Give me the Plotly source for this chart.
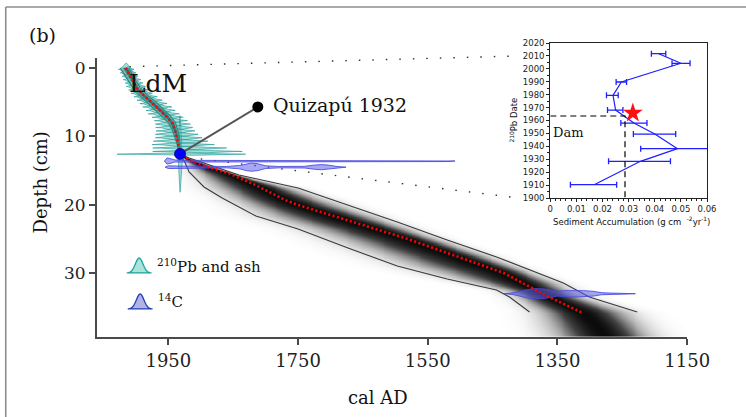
import numpy as np
import plotly.graph_objects as go

# ---------------- data ----------------
# Age-depth model: mean (red dotted) and 95% bounds (thin dark lines)
mean_depth = [0, 1, 2, 3, 4, 5, 6, 7, 8, 9, 10, 11, 12, 12.57, 13.45, 14.4, 15.4, 17.1, 19.3, 20.03, 25.0, 27.05, 29.97, 33.48, 35.82]
mean_year = [2016, 2010, 2004, 1998, 1988, 1976, 1965, 1954, 1944, 1940, 1937, 1935, 1933, 1932, 1918, 1892, 1857, 1816, 1770, 1750, 1581, 1520, 1433, 1363, 1311]

young_depth = [0, 1, 2, 3, 4, 5, 6, 7, 8, 9, 10, 11, 12, 12.57, 13.89, 15.20, 17.40, 19.01, 21.64, 23.54, 26.32, 28.95, 30.85, 32.46, 33.48, 34.65, 35.67]
young_year = [2024, 2017, 2010, 2004, 1994, 1983, 1972, 1961, 1950, 1944, 1940, 1937, 1934.5, 1932, 1924, 1918, 1895, 1867, 1815, 1750, 1673, 1597, 1520, 1444, 1424, 1408, 1393]

old_depth = [0, 1, 2, 3, 4, 5, 6, 7, 8, 9, 10, 11, 12, 12.57, 13.16, 15.64, 17.54, 20.03, 22.51, 25.15, 27.63, 31.43, 33.48, 35.67]
old_year = [2011, 2005, 1999, 1993, 1982, 1969, 1958, 1947, 1939, 1936, 1933, 1932, 1931, 1931.5, 1918, 1841, 1750, 1673, 1597, 1520, 1444, 1341, 1301, 1227]

# grey cloud continues below the end of the lines
cloud_ext_depth = [37.5, 39.4]
cloud_ext_mean = [1292, 1276]
cloud_ext_young = [1384, 1372]
cloud_ext_old = [1206, 1188]

# 210Pb dates (depth, age, 1-sigma)
pb_depth = [0.2, 0.7, 1.2, 1.7, 2.2, 2.7, 3.2, 3.7, 4.2, 4.7, 5.2, 5.7, 6.2, 6.7, 7.2, 7.7, 8.2, 8.7, 9.2, 9.7, 10.2, 10.7, 11.2, 11.7, 12.2, 12.6]
pb_age = [2015, 2012, 2009, 2006, 2003, 2000, 1996, 1991, 1985, 1979, 1973, 1967, 1962, 1957, 1951, 1946, 1943, 1941, 1939, 1937, 1934, 1931, 1927, 1917, 1905, 1930]
pb_sd = [4, 4, 4, 4.5, 4.5, 5, 5, 5.5, 6, 6.5, 7, 7.5, 7.5, 8, 8, 8.5, 9, 9.5, 10, 11, 12, 14, 16, 19, 23, 33]

# Quizapu 1932 ash
ash_depth = 12.57
ash_age = 1932
ash_sd = 1.4
ash_peak = 5.6
ash_label_year = 1812
ash_label_depth = 5.7

# 14C calibrated distributions: outline (years, half-height in cm)
c14_depths = [13.6, 14.5, 33.0]
c14_years = [
    [1956, 1952, 1947, 1940, 1930, 1900, 1800, 1700, 1600, 1520, 1508],
    [1955, 1950, 1930, 1900, 1860, 1840, 1830, 1822, 1812, 1800, 1780, 1740, 1725, 1714, 1703, 1690, 1676],
    [1432, 1420, 1410, 1400, 1385, 1370, 1358, 1350, 1340, 1325, 1310, 1295, 1282, 1270, 1250, 1230],
]
c14_half = [
    [0, 0.45, 0.35, 0.15, 0.1, 0.1, 0.1, 0.1, 0.1, 0.08, 0],
    [0, 0.2, 0.15, 0.1, 0.1, 0.25, 0.5, 0.6, 0.5, 0.2, 0.1, 0.12, 0.3, 0.38, 0.3, 0.1, 0],
    [0, 0.1, 0.3, 0.55, 0.75, 0.7, 0.5, 0.35, 0.45, 0.5, 0.45, 0.35, 0.15, 0.1, 0.07, 0],
]

# Inset: sediment accumulation vs 210Pb date
sar_date = [2011.7, 2004.3, 1989.8, 1979.5, 1968.1, 1958.0, 1949.5, 1938.2, 1928.4, 1910.3]
sar_value = [0.0415, 0.0500, 0.0272, 0.0240, 0.0250, 0.0320, 0.0400, 0.0487, 0.0345, 0.0168]
sar_low = [0.0387, 0.0466, 0.0252, 0.0215, 0.0219, 0.0270, 0.0318, 0.0346, 0.0223, 0.0077]
sar_high = [0.0442, 0.0535, 0.0292, 0.0260, 0.0278, 0.0370, 0.0480, 0.0628, 0.0460, 0.0254]
dam_year = 1963.5
dam_sar = 0.0286
star_sar = 0.0316
star_year = 1965.8

x_ticks = [1950, 1750, 1550, 1350, 1150]
y_ticks = [0, 10, 20, 30]

# ---------------- layout geometry ----------------
W, H = 746, 417
L, R, T, B = 97, 30, 40, 80
PW, PH = W - L - R, H - T - B


def pxx(x):
    return (x - L) / PW


def pxy(y):
    return (H - B - y) / PH


X0, X1 = 2060, 1150
Y0, Y1 = -1.46, 39.33
MX0, MX1, MY0, MY1 = 97, 692, 58, 337
IX0, IX1, IY0, IY1 = 554, 712, 43, 198
SX = (0, 0.06)
SY = (1900, 2020)


def main_px(year, depth):
    return (MX0 + (X0 - year) / (X0 - X1) * (MX1 - MX0),
            MY0 + (depth - Y0) / (Y1 - Y0) * (MY1 - MY0))


def inset_px(v, yr):
    return (IX0 + (v - SX[0]) / (SX[1] - SX[0]) * (IX1 - IX0),
            IY1 - (yr - SY[0]) / (SY[1] - SY[0]) * (IY1 - IY0))


SERIF = "DejaVu Serif"
SANS = "DejaVu Sans"

fig = go.Figure()

# ---------------- grey probability cloud ----------------
cd = np.array(mean_depth + cloud_ext_depth)
cm = np.array(mean_year + cloud_ext_mean)
yd = np.array(young_depth + cloud_ext_depth)
yy = np.array(young_year + cloud_ext_young)
od = np.array(old_depth + cloud_ext_depth)
oy = np.array(old_year + cloud_ext_old)

gy = np.arange(0.0, 39.45, 0.1)
gx = np.arange(1150.0, 2060.1, 1.5)
m = np.interp(gy, cd, cm)
sl = np.maximum((np.interp(gy, yd, yy) - m) / 2.1, 1.0)
sr = np.maximum((m - np.interp(gy, od, oy)) / 2.1, 1.0)
dx = gx[None, :] - m[:, None]
sig = np.where(dx > 0, sl[:, None], sr[:, None])
Z = np.exp(-0.5 * (dx / sig) ** 2)
Z[Z < 0.004] = 0
Z = np.round(Z, 3)

fig.add_trace(go.Heatmap(
    x=gx, y=gy, z=Z, zmin=0, zmax=1, showscale=False, zsmooth="best",
    colorscale=[[0, "rgba(0,0,0,0)"], [0.3, "rgba(10,10,10,0.3)"], [0.7, "rgba(0,0,0,0.75)"], [1, "rgba(0,0,0,0.96)"]],
    hoverinfo="skip", xaxis="x", yaxis="y"))

# bounds
for dd, yv in ((young_depth, young_year), (old_depth, old_year)):
    fig.add_trace(go.Scatter(x=yv, y=dd, mode="lines", line=dict(color="#3a3a3a", width=1.1),
                             hoverinfo="skip", showlegend=False, xaxis="x", yaxis="y"))

# 210Pb + ash distributions
K = 3.2
tx, ty = [], []
items = [(d, a, s, K / s + 0.1) for d, a, s in zip(pb_depth, pb_age, pb_sd)] + [(ash_depth, ash_age, ash_sd, ash_peak)]
for d, a, s, hpk in items:
    t = np.linspace(-3.0, 3.0, 41)
    g = np.exp(-0.5 * t ** 2) * hpk
    xs = a + t * s
    tx += list(xs) + list(xs[::-1]) + [None]
    ty += list(d - g) + list((d + g)[::-1]) + [None]
fig.add_trace(go.Scatter(x=tx, y=ty, mode="lines", fill="toself", fillcolor="rgba(70,192,182,0.5)",
                         line=dict(color="rgba(25,150,145,0.75)", width=0.8), hoverinfo="skip",
                         showlegend=False, xaxis="x", yaxis="y"))

# 14C distributions
bx, by = [], []
for d, yrs, hh in zip(c14_depths, c14_years, c14_half):
    yrs = np.array(yrs, float)
    hh = np.array(hh, float)
    bx += list(yrs) + list(yrs[::-1]) + [None]
    by += list(d - hh) + list((d + hh)[::-1]) + [None]
fig.add_trace(go.Scatter(x=bx, y=by, mode="lines", fill="toself", fillcolor="rgba(95,95,235,0.55)",
                         line=dict(color="rgba(70,70,225,0.85)", width=1), hoverinfo="skip",
                         showlegend=False, xaxis="x", yaxis="y"))

# mean (red dotted)
fig.add_trace(go.Scatter(x=mean_year, y=mean_depth, mode="lines",
                         line=dict(color="#ff0000", width=2.6, dash="2px,2.5px"),
                         hoverinfo="skip", showlegend=False, xaxis="x", yaxis="y"))

# Quizapu connector
fig.add_trace(go.Scatter(x=[ash_age, ash_label_year], y=[ash_depth, ash_label_depth], mode="lines",
                         line=dict(color="#555555", width=2), hoverinfo="skip", showlegend=False,
                         xaxis="x", yaxis="y"))
fig.add_trace(go.Scatter(x=[ash_label_year], y=[ash_label_depth], mode="markers",
                         marker=dict(color="black", size=11), hoverinfo="skip", showlegend=False,
                         xaxis="x", yaxis="y"))
fig.add_trace(go.Scatter(x=[ash_age], y=[ash_depth], mode="markers",
                         marker=dict(color="#0000ff", size=11, line=dict(color="#000080", width=0.8)),
                         hoverinfo="skip", showlegend=False, xaxis="x", yaxis="y"))

# ---------------- inset ----------------
fig.add_trace(go.Scatter(
    x=sar_value, y=sar_date, mode="lines", line=dict(color="#1f1fff", width=1.2),
    error_x=dict(type="data", symmetric=False,
                 array=[h - v for h, v in zip(sar_high, sar_value)],
                 arrayminus=[v - lo for v, lo in zip(sar_value, sar_low)],
                 color="#1f1fff", thickness=1.3, width=3),
    hoverinfo="skip", showlegend=False, xaxis="x2", yaxis="y2"))
fig.add_trace(go.Scatter(x=[SX[0], dam_sar, dam_sar], y=[dam_year, dam_year, SY[0]], mode="lines",
                         line=dict(color="black", width=1.2, dash="6px,4px"), hoverinfo="skip",
                         showlegend=False, xaxis="x2", yaxis="y2", cliponaxis=False))
fig.add_trace(go.Scatter(x=[star_sar], y=[star_year], mode="markers",
                         marker=dict(symbol="star", color="#ff1010", size=15, line=dict(width=0)),
                         hoverinfo="skip", showlegend=False, xaxis="x2", yaxis="y2"))

# ---------------- axes ----------------
ax_common = dict(showgrid=False, zeroline=False, showline=True, ticks="outside")
fig.update_layout(
    width=W, height=H, margin=dict(l=L, r=R, t=T, b=B),
    paper_bgcolor="white", plot_bgcolor="rgba(0,0,0,0)",
    xaxis=dict(ax_common, domain=[0, pxx(MX1)], range=[X0, X1], tickvals=x_ticks,
               linecolor="#4a4a4a", linewidth=2, tickcolor="#4a4a4a", tickwidth=1.5, ticklen=6,
               tickfont=dict(family=SERIF, size=18, color="#222")),
    yaxis=dict(ax_common, domain=[0, pxy(MY0)], range=[Y1, Y0], tickvals=y_ticks,
               linecolor="#4a4a4a", linewidth=2, tickcolor="#4a4a4a", tickwidth=1.5, ticklen=6,
               tickfont=dict(family=SERIF, size=17, color="#222")),
    xaxis2=dict(ax_common, domain=[pxx(IX0), pxx(IX1)], range=list(SX), anchor="y2",
                tickvals=[0, 0.01, 0.02, 0.03, 0.04, 0.05, 0.06],
                ticktext=["0", "0.01", "0.02", "0.03", "0.04", "0.05", "0.06"],
                mirror=True, linecolor="#222", linewidth=1.3, tickcolor="#222", ticklen=3,
                minor=dict(dtick=0.002, ticks="outside", ticklen=2, tickcolor="#222"),
                tickfont=dict(family=SANS, size=8.5, color="#222")),
    yaxis2=dict(ax_common, domain=[pxy(IY1), pxy(IY0)], range=list(SY), anchor="x2",
                dtick=10, mirror=True, linecolor="#222", linewidth=1.3, tickcolor="#222", ticklen=3,
                minor=dict(dtick=5, ticks="outside", ticklen=2, tickcolor="#222"),
                tickfont=dict(family=SANS, size=8.5, color="#222")),
)

ann = []


def A(text, x, y, size, family=SERIF, **kw):
    d = dict(text=text, x=pxx(x), y=pxy(y), xref="paper", yref="paper", showarrow=False,
             xanchor="center", yanchor="middle",
             font=dict(family=family, size=size, color="#111"))
    d.update(kw)
    ann.append(d)


A("(b)", 42, 35, 19)
A("Depth (cm)", 40, 182, 18, textangle=-90)
A("cal AD", 380, 397, 18)
A("LdM", 158, 83, 25)
lx, ly = main_px(ash_label_year, ash_label_depth)
A("Quizapú 1932", lx + 13, ly - 2, 19, xanchor="left")
A("<sup>210</sup>Pb and ash", 155, 266, 15, xanchor="left")
A("<sup>14</sup>C", 156, 301, 15, xanchor="left")
dx_, dy_ = inset_px(0.0004, 1950.5)
A("Dam", dx_, dy_, 13, xanchor="left")
A("<sup>210</sup>Pb Date", 517, 120, 8.5, family=SANS, textangle=-90)
A("Sediment Accumulation (g cm  <sup>-2</sup>yr<sup>-1</sup>)", 636, 221, 8.5, family=SANS)
fig.update_layout(annotations=ann)

shapes = []
# frame
FR = dict(color="#8c8c8c", width=1.6)
shapes.append(dict(type="line", xref="paper", yref="paper", x0=pxx(5), y0=pxy(7), x1=pxx(760), y1=pxy(7), line=FR))
shapes.append(dict(type="line", xref="paper", yref="paper", x0=pxx(5), y0=pxy(7), x1=pxx(5), y1=pxy(430), line=FR))

# dotted connectors main -> inset
for (yr0, d0), ins_y in (((2010, -0.2), 2010), ((1900, 13.3), 1900)):
    sx, sy = main_px(yr0, d0)
    ex, ey = inset_px(-0.012, ins_y)
    shapes.append(dict(type="line", xref="paper", yref="paper", x0=pxx(sx), y0=pxy(sy),
                       x1=pxx(ex), y1=pxy(ey), line=dict(color="#333", width=1.4, dash="1.5px,12px"),
                       layer="below"))


# legend icons (bell curves)
def bell(cx, base, hw, hgt):
    t = np.linspace(-1, 1, 31)
    pts = [(cx + v * hw, base - hgt * np.exp(-(2.3 * v) ** 2)) for v in t]
    p = "M " + " L ".join(f"{pxx(a):.5f},{pxy(b):.5f}" for a, b in pts) + " Z"
    return p


shapes.append(dict(type="path", xref="paper", yref="paper", path=bell(139.5, 273, 12.5, 15),
                   fillcolor="rgba(150,220,210,0.8)", line=dict(color="#1aa39a", width=1.3)))
shapes.append(dict(type="path", xref="paper", yref="paper", path=bell(140.5, 309, 12.5, 15),
                   fillcolor="rgba(170,170,230,0.9)", line=dict(color="#1f3fb0", width=1.3)))
fig.update_layout(shapes=shapes)

fig.write_html("out.html", config={"displayModeBar": False},
               post_script="document.body.style.margin='0px';document.body.style.padding='0px';")
